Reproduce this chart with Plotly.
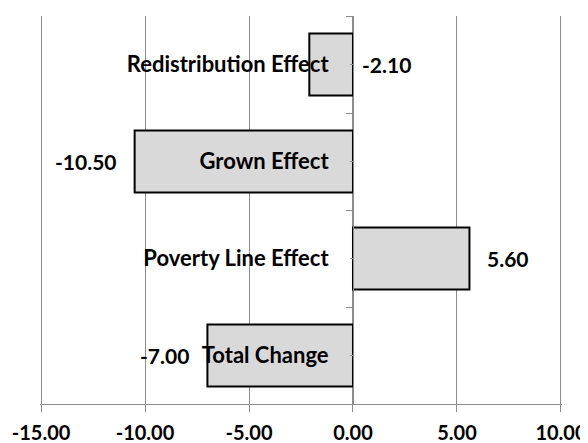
import plotly.graph_objects as go

categories = ["Total Change", "Poverty Line Effect", "Grown Effect", "Redistribution Effect"]
values = [-7.00, 5.60, -10.50, -2.10]
value_labels = ["-7.00", "5.60", "-10.50", "-2.10"]
# where each value label is anchored (the Redistribution label sits just right of zero)
label_anchor_x = [-7.00, 5.60, -10.50, 0.0]
x_ticks = [-15, -10, -5, 0, 5, 10]
x_tick_labels = ["-15.00", "-10.00", "-5.00", "0.00", "5.00", "10.00"]

FONT = "Lato"
GRID = "#8c8c8c"
ypos = list(range(len(categories)))

fig = go.Figure()
fig.add_trace(go.Bar(
    x=values, y=ypos, orientation="h",
    marker=dict(color="#d9d9d9", line=dict(color="black", width=2)),
    showlegend=False, hoverinfo="skip",
))

annotations = []
for yi, ax_, lab in zip(ypos, label_anchor_x, value_labels):
    left = ax_ >= 0
    annotations.append(dict(
        x=ax_, y=yi, xref="x", yref="y", text=lab, showarrow=False,
        xanchor="left" if left else "right",
        xshift=(16 if ax_ > 0 else 7) if left else -16,
        font=dict(family=FONT, size=21, color="black", weight="bold"),
    ))

# the page body adds an 8px offset, so the figure is drawn 8px smaller;
# the x range is padded by 0.05 so the edge gridlines at -15 and 10 are drawn
fig.update_layout(
    width=580, height=435,
    margin=dict(l=32, r=26, t=8, b=39),
    paper_bgcolor="white", plot_bgcolor="white",
    bargap=0.36,
    annotations=annotations,
    xaxis=dict(
        range=[-15.05, 10.05], tickmode="array", tickvals=x_ticks, ticktext=x_tick_labels,
        showgrid=True, gridcolor=GRID, gridwidth=1, zeroline=False,
        showline=True, linecolor=GRID, linewidth=1,
        ticks="outside", ticklen=7, tickcolor=GRID,
        ticklabelstandoff=4,
        tickfont=dict(family=FONT, size=20, color="black", weight="bold"),
        automargin=False, fixedrange=True,
    ),
    yaxis=dict(
        range=[-0.5, len(categories) - 0.5], tickmode="array", tickvals=ypos, ticktext=categories,
        anchor="free", position=15.05 / 25.1,
        showgrid=False, zeroline=False,
        showline=True, linecolor=GRID, linewidth=1,
        ticks="outside", ticklen=3, tickcolor=GRID,
        ticklabelstandoff=17,
        minor=dict(tickmode="array", tickvals=[i - 0.5 for i in range(len(categories) + 1)],
                   ticks="outside", ticklen=7, tickcolor=GRID, showgrid=False),
        tickfont=dict(family=FONT, size=22, color="black", weight="bold"),
        automargin=False, fixedrange=True,
    ),
)

fig.write_html("out.html")
